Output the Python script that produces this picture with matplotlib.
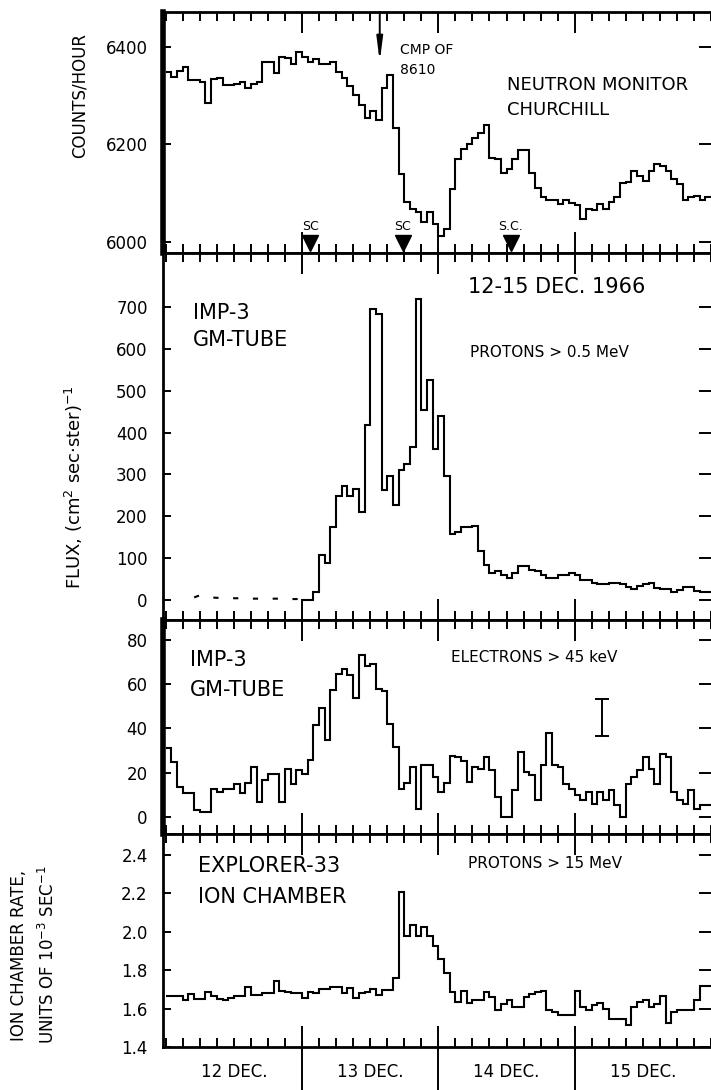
import numpy as np
import matplotlib
matplotlib.use("Agg")
import matplotlib.pyplot as plt
from matplotlib.ticker import MultipleLocator, FixedLocator

plt.rcParams['font.family'] = ['DejaVu Sans']

# ---------------- data (hourly values, 12-15 Dec 1966) ----------------
hours = np.arange(97)  # bin edges in hours

neutron = [6349, 6339, 6350, 6360, 6332, 6332, 6329, 6285, 6335, 6337,
           6322, 6322, 6325, 6329, 6315, 6325, 6329, 6370, 6370, 6346,
           6380, 6377, 6366, 6390, 6380, 6370, 6375, 6366, 6366, 6370,
           6349, 6336, 6319, 6302, 6281, 6254, 6268, 6251, 6315, 6342,
           6234, 6139, 6081, 6068, 6061, 6041, 6061, 6037, 6012, 6027,
           6108, 6170, 6190, 6200, 6214, 6224, 6239, 6173, 6170, 6142,
           6150, 6170, 6188, 6188, 6142, 6110, 6092, 6085, 6085, 6078,
           6085, 6080, 6075, 6047, 6068, 6065, 6078, 6068, 6082, 6092,
           6120, 6122, 6146, 6136, 6125, 6146, 6159, 6156, 6146, 6129,
           6119, 6085, 6092, 6095, 6085, 6092]

proton_quiet_hours = [5, 6, 7, 8, 9, 10, 11, 12, 13, 14, 15, 16, 17, 18, 19, 20, 21, 22, 23, 24]
proton_quiet = [6, 11, 8, 6, 5, 5, 4, 4, 4, 4, 3, 3, 3, 3, 3, 3, 2, 2, 2, 2]

proton_start_hour = 24
protons = [0, 0, 20, 107, 88, 175, 248, 272, 248, 264,
           211, 419, 694, 684, 263, 296, 227, 310, 324, 366,
           718, 454, 525, 360, 440, 296, 157, 163, 175, 175,
           177, 118, 84, 64, 68, 60, 52, 64, 80, 80,
           72, 68, 60, 52, 52, 60, 60, 64, 60, 48,
           48, 41, 37, 37, 40, 41, 38, 30, 25, 33,
           38, 40, 28, 26, 25, 20, 24, 30, 30, 22,
           20, 18]

electrons = [31, 25, 13.5, 11, 11, 3, 2.3, 2.3, 12.8, 11.3,
             12.8, 12.8, 15, 11, 15.3, 22.6, 6.8, 16.5, 19.5, 19.5,
             6.8, 21.8, 15, 21, 19.5, 25.9, 41.4, 49.3, 34.6, 57.2,
             64.7, 67, 64, 53.8, 73.4, 68, 69, 58, 57, 42,
             31.6, 12.8, 15.3, 22.6, 3.8, 23.3, 23.5, 18, 11.3, 15.3,
             27.4, 27, 25.3, 15.8, 22.6, 21.8, 27, 21, 9, 0,
             0, 12, 29.3, 20.3, 18.8, 7.5, 23.3, 37.9, 23.3, 22.6,
             15, 12.8, 9.8, 7.5, 11.3, 6, 11.3, 7.5, 12, 5.3,
             0, 15, 18, 21, 27, 21.8, 15, 28.6, 27, 11.3,
             7.8, 6, 12, 3.8, 5.3, 5.3]

ion_rate = [1.665, 1.665, 1.665, 1.643, 1.677, 1.65, 1.65, 1.689, 1.668, 1.65,
            1.643, 1.656, 1.668, 1.668, 1.711, 1.673, 1.673, 1.68, 1.68, 1.742,
            1.694, 1.685, 1.68, 1.68, 1.656, 1.689, 1.68, 1.70, 1.703, 1.711,
            1.711, 1.68, 1.706, 1.656, 1.68, 1.689, 1.703, 1.673, 1.697, 1.697,
            1.762, 2.21, 1.976, 2.036, 1.976, 2.027, 1.976, 1.925, 1.856, 1.788,
            1.685, 1.634, 1.694, 1.63, 1.643, 1.643, 1.685, 1.66, 1.591, 1.625,
            1.643, 1.608, 1.608, 1.66, 1.677, 1.685, 1.694, 1.591, 1.583, 1.566,
            1.566, 1.566, 1.694, 1.608, 1.594, 1.617, 1.63, 1.6, 1.544, 1.544,
            1.544, 1.515, 1.608, 1.634, 1.643, 1.608, 1.625, 1.668, 1.526, 1.583,
            1.595, 1.595, 1.591, 1.643, 1.72, 1.72]

sc_times = [1.06, 1.74, 2.53]          # days after 12 Dec 00 UT
sc_labels = ["SC", "SC", "S.C."]
cmp_time = 1.57
day_labels = ["12 DEC.", "13 DEC.", "14 DEC.", "15 DEC."]
errbar_x, errbar_y, errbar_half = 3.2, 45, 8.5

neutron_ticks = [6000, 6200, 6400]
proton_ticks = [0, 100, 200, 300, 400, 500, 600, 700]
electron_ticks = [0, 20, 40, 60, 80]
ion_ticks = [1.4, 1.6, 1.8, 2.0, 2.2, 2.4]
ion_ticklabels = ["1.4", "1.6", "1.8", "2.0", "2.2", "2.4"]

# ---------------- figure ----------------
W, H = 711, 1090
fig = plt.figure(figsize=(W / 100, H / 100), dpi=100)

def px_axes(top, bottom, left=163, right=711):
    return fig.add_axes([left / W, 1 - bottom / H, (right - left) / W, (bottom - top) / H])

ax1 = px_axes(12, 253)
ax2 = px_axes(253, 620)
ax3 = px_axes(620, 834)
ax4 = px_axes(834, 1047)
axes = [ax1, ax2, ax3, ax4]

edges = np.asarray(hours) / 24.0
lw = 1.5
for ax in axes:
    ax.set_xlim(-0.02, 4.0)
    ax.xaxis.set_major_locator(FixedLocator([1, 2, 3]))
    ax.xaxis.set_minor_locator(MultipleLocator(1 / 8))
    ax.tick_params(axis='x', which='both', direction='in', top=True, bottom=True,
                   labelbottom=False, width=1.4)
    ax.tick_params(axis='x', which='major', length=15)
    ax.tick_params(axis='x', which='minor', length=6.5)
    ax.tick_params(axis='y', direction='in', left=True, right=True, length=6,
                   width=1.4, labelsize=12, pad=11)
    for s in ax.spines.values():
        s.set_linewidth(2.0)
    ax.spines['right'].set_visible(False)

# panel 1: neutron monitor
ax1.stairs(neutron, edges, baseline=None, color='black', lw=lw)
ax1.set_ylim(5977, 6472)
ax1.set_yticks(neutron_ticks)
ax1.spines['left'].set_linewidth(4)
ax1.plot(sc_times, [5997] * len(sc_times), linestyle='none', marker='v',
         markersize=11, color='black', clip_on=False, zorder=5)
for t, lab in zip(sc_times, sc_labels):
    ax1.text(t, 6031, lab, ha='center', va='center', fontsize=9)
ax1.annotate('', xy=(cmp_time, 6370), xytext=(cmp_time, 6472),
             arrowprops=dict(arrowstyle='-|>,head_length=1.4,head_width=0.18',
                             color='black', lw=1.4, shrinkA=0, shrinkB=0))
ax1.text(1.72, 6394, "CMP OF", fontsize=10, va='center', ha='left')
ax1.text(1.72, 6353, "8610", fontsize=10, va='center', ha='left')
ax1.text(2.50, 6322, "NEUTRON MONITOR", fontsize=13, va='center', ha='left')
ax1.text(2.50, 6271, "CHURCHILL", fontsize=13, va='center', ha='left')

# panel 2: protons > 0.5 MeV
ax2.plot(np.asarray(proton_quiet_hours) / 24.0, proton_quiet, color='black', lw=lw,
         dashes=(2.5, 7))
ax2.stairs(protons, edges[proton_start_hour:], baseline=None, color='black', lw=lw)
ax2.set_ylim(-48, 829)
ax2.set_yticks(proton_ticks)
ax2.text(0.20, 686, "IMP-3", fontsize=15, va='center', ha='left')
ax2.text(0.20, 621, "GM-TUBE", fontsize=15, va='center', ha='left')
ax2.text(2.22, 748, "12-15 DEC. 1966", fontsize=15, va='center', ha='left')
ax2.text(2.23, 592, "PROTONS > 0.5 MeV", fontsize=11, va='center', ha='left')

# panel 3: electrons > 45 keV
ax3.stairs(electrons, edges, baseline=None, color='black', lw=lw)
ax3.set_ylim(-7.7, 89)
ax3.set_yticks(electron_ticks)
ax3.spines['left'].set_linewidth(4)
ax3.errorbar([errbar_x], [errbar_y], yerr=[errbar_half], color='black', lw=1.4,
             capsize=5, capthick=1.4, fmt='none')
ax3.text(0.18, 71, "IMP-3", fontsize=15, va='center', ha='left')
ax3.text(0.18, 57.4, "GM-TUBE", fontsize=15, va='center', ha='left')
ax3.text(2.09, 71.9, "ELECTRONS > 45 keV", fontsize=11, va='center', ha='left')

# panel 4: ion chamber
ax4.stairs(ion_rate, edges, baseline=None, color='black', lw=lw)
ax4.set_ylim(1.4, 2.51)
ax4.set_yticks(ion_ticks)
ax4.set_yticklabels(ion_ticklabels)
ax4.text(0.24, 2.341, "EXPLORER-33", fontsize=15, va='center', ha='left')
ax4.text(0.24, 2.18, "ION CHAMBER", fontsize=15, va='center', ha='left')
ax4.text(2.22, 2.357, "PROTONS > 15 MeV", fontsize=11, va='center', ha='left')

# longer inward ticks on the right-hand side
for ax in axes:
    for tk in ax.yaxis.get_major_ticks():
        tk.tick2line.set_markersize(9)

# day separators below bottom axis and day labels
trans = ax4.get_xaxis_transform()
for d in [1, 2, 3]:
    ax4.plot([d, d], [0, -0.3], transform=trans, color='black', lw=1.4, clip_on=False)
for i, lab in enumerate(day_labels):
    ax4.text(i + 0.5, -0.118, lab, transform=trans, ha='center', va='center', fontsize=12)

# axis titles
fig.text(80 / W, 1 - 95 / H, "COUNTS/HOUR", rotation=90, ha='center', va='center', fontsize=12)
fig.text(74 / W, 1 - 487 / H, "FLUX, (cm$^2$ sec$\\cdot$ster)$^{-1}$", rotation=90,
         ha='center', va='center', fontsize=13)
fig.text(34 / W, 1 - 955 / H, "ION CHAMBER RATE,\nUNITS OF 10$^{-3}$ SEC$^{-1}$", rotation=90,
         ha='center', va='center', fontsize=12, linespacing=1.6)

fig.savefig("out.png", dpi=100)
